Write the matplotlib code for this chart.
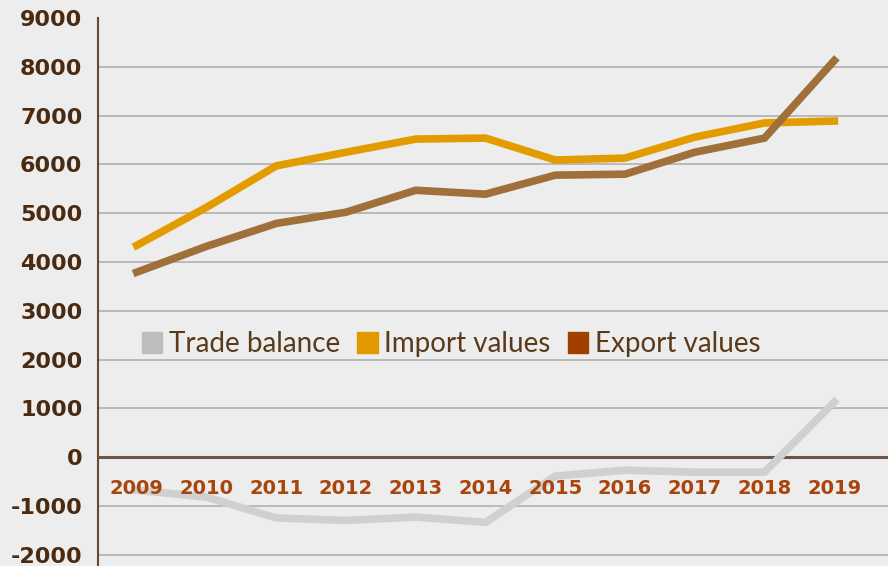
import matplotlib.pyplot as plt
from matplotlib.patches import Patch

# data
years = [2009, 2010, 2011, 2012, 2013, 2014, 2015, 2016, 2017, 2018, 2019]
import_values = [4340, 5120, 5970, 6250, 6520, 6540, 6090, 6130, 6560, 6850, 6890]
export_values = [3790, 4320, 4790, 5020, 5470, 5390, 5780, 5800, 6250, 6540, 8130]
trade_balance = [-680, -820, -1250, -1300, -1230, -1340, -390, -270, -310, -310, 1130]
y_ticks = [-2000, -1000, 0, 1000, 2000, 3000, 4000, 5000, 6000, 7000, 8000, 9000]

bg = '#ededed'
brown_txt = '#4a2a10'
rust = '#a8440c'

fig = plt.figure(figsize=(8.88, 5.66), dpi=100, facecolor=bg)
ax = fig.add_axes([0.110, 0.0, 0.890, 0.968])
ax.set_facecolor(bg)

ax.set_xlim(2008.44, 2019.77)
ax.set_ylim(-2234, 9000)

# grid lines
for v in y_ticks:
    if v == 0:
        ax.axhline(v, color='#6e5444', lw=2.2, zorder=2)
    elif v < 9000:
        ax.axhline(v, color='#ababab', lw=1.1, zorder=1)

# lines
ax.plot(years, trade_balance, color='#d0d0d0', lw=5.5, solid_joinstyle='miter', zorder=3)
ax.plot(years, import_values, color='#e29c00', lw=5.5, solid_joinstyle='miter', zorder=4)
ax.plot(years, export_values, color='#a0703a', lw=5.5, solid_joinstyle='miter', zorder=5)

# year labels just under the zero line
for yr in years:
    ax.text(yr, -640, str(yr), ha='center', va='center', fontsize=14,
            fontweight='bold', color=rust, zorder=6)

ax.set_xticks([])
ax.set_yticks(y_ticks)
ax.set_yticklabels([str(v) for v in y_ticks], fontsize=16, fontweight='bold',
                   color=brown_txt)
ax.tick_params(axis='y', length=0, pad=11)

for s in ['top', 'right', 'bottom']:
    ax.spines[s].set_visible(False)
ax.spines['left'].set_color('#6b4a30')
ax.spines['left'].set_linewidth(1.5)

# legend
handles = [Patch(color='#bdbdbd', label='Trade balance'),
           Patch(color='#e09a00', label='Import values'),
           Patch(color='#a04000', label='Export values')]
leg = ax.legend(handles=handles, loc='center left', bbox_to_anchor=(0.024, 0.405),
                ncol=3, frameon=False, handlelength=0.75, handleheight=0.75,
                handletextpad=0.22, columnspacing=0.62,
                prop={'family': 'Lato', 'size': 20})
for t in leg.get_texts():
    t.set_color('#5a3a1a')

plt.savefig('out.png', dpi=100, facecolor=bg)
